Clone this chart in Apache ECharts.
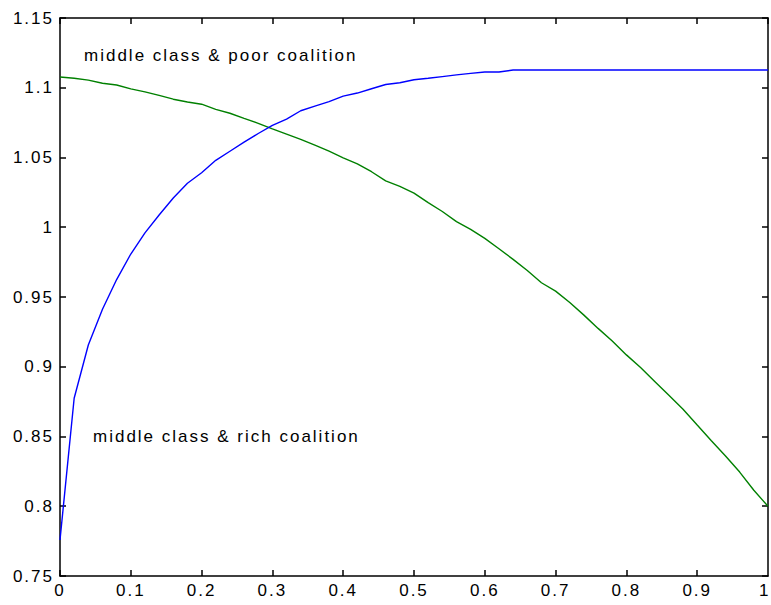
<!DOCTYPE html>
<html>
<head>
<meta charset="utf-8">
<script src="https://cdn.jsdelivr.net/npm/echarts@6/dist/echarts.min.js"></script>
<style>
html,body{margin:0;padding:0;background:#fff;}
#c{width:771px;height:605px;}
#c svg text{letter-spacing:2px;}
</style>
</head>
<body>
<div id="c"></div>
<script>
const xValues = [0,0.02,0.04,0.06,0.08,0.10,0.12,0.14,0.16,0.18,0.20,0.22,0.24,0.26,0.28,0.30,0.32,0.34,0.36,0.38,0.40,0.42,0.44,0.46,0.48,0.50,0.52,0.54,0.56,0.58,0.60,0.62,0.64,0.66,0.68,0.70,0.72,0.74,0.76,0.78,0.80,0.82,0.84,0.86,0.88,0.90,0.92,0.94,0.96,0.98,1.00];
const middleRich = [0.7758,0.8774,0.9156,0.9412,0.9625,0.9808,0.9960,1.0088,1.0210,1.0315,1.0391,1.0480,1.0545,1.0610,1.0672,1.0730,1.0775,1.0835,1.0868,1.0900,1.0940,1.0962,1.0993,1.1023,1.1036,1.1057,1.1068,1.1080,1.1092,1.1103,1.1113,1.1113,1.1127,1.1127,1.1127,1.1127,1.1127,1.1127,1.1127,1.1127,1.1127,1.1127,1.1127,1.1127,1.1127,1.1127,1.1127,1.1127,1.1127,1.1127,1.1127];
const middlePoor = [1.1077,1.1068,1.1055,1.1032,1.1020,1.0992,1.0970,1.0945,1.0918,1.0898,1.0882,1.0845,1.0817,1.0780,1.0745,1.0705,1.0668,1.0630,1.0588,1.0545,1.0498,1.0455,1.0398,1.0333,1.0293,1.0245,1.0176,1.0113,1.0040,0.9985,0.9920,0.9846,0.9770,0.9690,0.9602,0.9542,0.9460,0.9370,0.9275,0.9185,0.9085,0.8995,0.8895,0.8795,0.8695,0.8582,0.8470,0.8360,0.8245,0.8115,0.8000];
const xTickLabels = ['0','0.1','0.2','0.3','0.4','0.5','0.6','0.7','0.8','0.9','1'];
const yTickLabels = ['0.75','0.8','0.85','0.9','0.95','1','1.05','1.1','1.15'];
const annotations = [
  {text:'middle class & poor coalition', x:0.0339, y:1.1228},
  {text:'middle class & rich coalition', x:0.0466, y:0.8503}
];

const FONT = 'Liberation Sans, Arial, Helvetica, sans-serif';
const chart = echarts.init(document.getElementById('c'), null, {renderer:'svg'});

const axisLineStyle = {color:'#000', width:1.5};
const tickStyle = {show:true, inside:true, length:6, lineStyle:{color:'#000', width:1.5}};

const option = {
  animation:false,
  backgroundColor:'#fff',
  grid:{left:60, top:18, right:3, bottom:29, containLabel:false, outerBoundsMode:'none'},
  xAxis:[
    {type:'value', min:0, max:1, interval:0.1, position:'bottom',
     axisLine:{show:true, onZero:false, lineStyle:axisLineStyle},
     axisTick:tickStyle, splitLine:{show:false},
     axisLabel:{color:'#000', fontFamily:FONT, fontSize:17, margin:6, hideOverlap:false,
       showMaxLabel:false,
       formatter:(v)=>xTickLabels[Math.round(v*10)]}},
    {type:'value', min:0, max:1, interval:0.1, position:'top',
     axisLine:{show:true, onZero:false, lineStyle:axisLineStyle},
     axisTick:tickStyle, splitLine:{show:false}, axisLabel:{show:false}}
  ],
  yAxis:[
    {type:'value', min:0.75, max:1.15, interval:0.05, position:'left',
     axisLine:{show:true, onZero:false, lineStyle:axisLineStyle},
     axisTick:tickStyle, splitLine:{show:false},
     axisLabel:{color:'#000', fontFamily:FONT, fontSize:17, margin:6, hideOverlap:false,
       formatter:(v)=>yTickLabels[Math.round((v-0.75)/0.05)]}},
    {type:'value', min:0.75, max:1.15, interval:0.05, position:'right',
     axisLine:{show:true, onZero:false, lineStyle:axisLineStyle},
     axisTick:tickStyle, splitLine:{show:false}, axisLabel:{show:false}}
  ],
  series:[
    {name:'middle class & rich coalition', type:'line', xAxisIndex:0, yAxisIndex:0,
     data:xValues.map((x,i)=>[x, middleRich[i]]), showSymbol:false, symbol:'none',
     lineStyle:{color:'#0000ff', width:1.4}, z:3},
    {name:'middle class & poor coalition', type:'line', xAxisIndex:0, yAxisIndex:0,
     data:xValues.map((x,i)=>[x, middlePoor[i]]), showSymbol:false, symbol:'none',
     lineStyle:{color:'#008000', width:1.4}, z:2}
  ]
};
chart.setOption(option);

const graphics = annotations.map(a=>{
  const p = chart.convertToPixel({xAxisIndex:0, yAxisIndex:0}, [a.x, a.y]);
  return {type:'text', x:p[0], y:p[1],
    style:{text:a.text, fill:'#000', font:'17px ' + FONT, textAlign:'left', textVerticalAlign:'middle'}};
});
// last x tick label, kept inside the page edge
const lastX = chart.convertToPixel({xAxisIndex:0, yAxisIndex:0}, [1, 0.75]);
graphics.push({type:'text', x:Math.min(lastX[0] + 2.5, 770.5), y:lastX[1] + 6,
  style:{text:xTickLabels[xTickLabels.length-1], fill:'#000', font:'17px ' + FONT, textAlign:'right', textVerticalAlign:'top'}});
chart.setOption({graphic:graphics});
</script>
</body>
</html>
